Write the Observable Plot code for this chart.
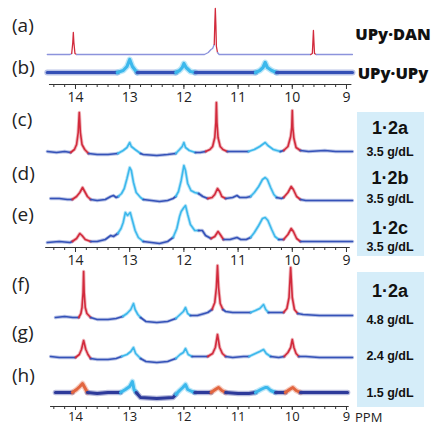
<!DOCTYPE html>
<html><head><meta charset="utf-8">
<script src="https://cdn.jsdelivr.net/npm/d3@7"></script>
<script src="https://cdn.jsdelivr.net/npm/@observablehq/plot@0.6"></script>
<style>
body{margin:0;background:#fff;}
#fig{position:relative;width:432px;height:425px;overflow:hidden;background:#fff;}
#fig svg{position:absolute;left:0;background:transparent;overflow:visible;}
.lbl{position:absolute;font-family:"Open Sans",sans-serif;color:#222;transform:translateY(-50%);white-space:nowrap;}
.box{position:absolute;background:#d5edf9;}
.bt{position:absolute;font-family:"Liberation Sans",Arial,sans-serif;font-weight:bold;color:#111;transform:translate(-50%,-50%);white-space:nowrap;}
</style></head>
<body><div id="fig"></div>
<script>
// ---- data: [ppm, intensity] ----
const specA = [[14.52,0],[14.1,0],[14.07,1],[14.05,12],[14.04,22],[14.03,12],[14.01,1],[13.98,0],[11.62,0],[11.55,2],[11.5,5],[11.47,6],[11.44,10],[11.43,30],[11.42,46],[11.41,30],[11.40,8],[11.38,2],[11.35,0],[9.66,0],[9.63,1],[9.62,12],[9.61,24],[9.60,12],[9.59,1],[9.56,0],[8.89,0]];
const colorsA = [[14.08,13.99,"red"],[11.44,11.37,"red"],[9.65,9.57,"red"]];

const specB = [[14.52,0],[13.23,0],[13.12,2],[13.05,6],[13.0,13],[12.95,6],[12.88,1],[12.86,0],[12.15,0],[12.08,2],[12.03,5],[12.0,9],[11.96,5],[11.88,1],[11.79,0],[10.68,0],[10.6,2],[10.54,5],[10.5,10],[10.46,5],[10.38,2],[10.29,0],[8.89,0]];
const colorsB = [[13.23,12.86,"cyan"],[12.15,11.79,"cyan"],[10.68,10.29,"cyan"]];

const specC = [[14.52,1],[14.35,0],[14.2,1],[14.09,0],[14.02,3],[13.98,8],[13.95,20],[13.93,40],[13.91,20],[13.88,8],[13.83,3],[13.76,-1],[13.6,-2],[13.4,-2],[13.22,-1],[13.12,2],[13.05,5],[13.0,10],[12.97,6],[12.9,3],[12.8,-1],[12.75,-2],[12.5,-3],[12.3,-2],[12.15,-1],[12.08,3],[12.03,6],[12.0,10],[11.97,5],[11.9,2],[11.79,0],[11.7,0],[11.6,1],[11.52,3],[11.47,6],[11.43,15],[11.41,30],[11.40,50],[11.39,30],[11.37,15],[11.33,6],[11.28,3],[11.2,1],[11.0,1],[10.81,1],[10.7,3],[10.6,6],[10.55,8],[10.5,10],[10.45,7],[10.35,3],[10.22,1],[10.16,2],[10.08,6],[10.03,16],[10.01,25],[10.0,42],[9.99,25],[9.97,14],[9.93,5],[9.85,2],[9.7,1],[9.4,2],[9.2,1],[8.89,1]];
const colorsC = [[14.09,13.76,"red"],[13.22,12.8,"cyan"],[12.15,11.79,"cyan"],[11.6,11.2,"red"],[10.81,10.22,"cyan"],[10.16,9.85,"red"]];

const specD = [[14.46,2],[14.3,2],[14.15,1],[14.06,1],[13.98,4],[13.92,8],[13.87,13],[13.83,9],[13.78,4],[13.72,1],[13.6,0],[13.45,1],[13.35,4],[13.3,5],[13.25,3],[13.21,4],[13.15,7],[13.1,12],[13.05,22],[13.0,33],[12.97,30],[12.93,18],[12.88,8],[12.8,3],[12.75,1],[12.6,0],[12.45,-1],[12.3,0],[12.2,2],[12.15,4],[12.1,9],[12.05,20],[12.0,35],[11.97,30],[11.93,17],[11.87,10],[11.8,8],[11.73,7],[11.65,4],[11.56,2],[11.48,3],[11.43,6],[11.38,12],[11.34,9],[11.3,4],[11.23,2],[11.1,3],[11.02,5],[10.97,3],[10.85,3],[10.77,4],[10.7,8],[10.62,14],[10.55,21],[10.5,23],[10.46,21],[10.4,13],[10.34,6],[10.29,3],[10.2,2],[10.16,3],[10.08,8],[10.02,14],[9.98,11],[9.92,4],[9.85,1],[9.75,0],[9.5,0],[9.2,0],[8.89,0]];
const colorsD = [[14.06,13.72,"red"],[13.21,12.75,"cyan"],[12.15,11.73,"cyan"],[11.56,11.23,"red"],[10.77,10.29,"cyan"],[10.16,9.85,"red"]];

const specE = [[14.52,0],[14.3,1],[14.1,0],[14.06,1],[13.98,4],[13.92,9],[13.88,7],[13.82,3],[13.72,1],[13.6,1],[13.45,3],[13.35,7],[13.3,6],[13.22,9],[13.16,14],[13.12,20],[13.08,30],[13.04,27],[12.99,30],[12.95,22],[12.9,12],[12.84,5],[12.75,1],[12.6,0],[12.45,-1],[12.3,1],[12.2,5],[12.13,14],[12.08,26],[12.05,31],[12.0,35],[11.97,37],[11.93,28],[11.88,18],[11.8,12],[11.73,12],[11.66,12],[11.6,7],[11.5,4],[11.43,6],[11.37,11],[11.33,8],[11.27,3],[11.15,3],[11.02,5],[10.95,3],[10.85,3],[10.77,5],[10.7,10],[10.62,17],[10.55,24],[10.5,25],[10.45,22],[10.38,13],[10.32,6],[10.25,3],[10.16,3],[10.08,8],[10.02,14],[9.98,11],[9.92,4],[9.85,1],[9.7,1],[9.3,1],[8.89,1]];
const colorsE = [[14.06,13.72,"red"],[13.22,12.75,"cyan"],[12.2,11.73,"cyan"],[11.5,11.27,"red"],[10.77,10.25,"cyan"],[10.16,9.85,"red"]];

const specF = [[14.37,0],[14.2,1],[14.05,0],[13.94,0],[13.9,4],[13.88,10],[13.86,25],[13.85,46],[13.84,25],[13.82,10],[13.79,4],[13.72,0],[13.6,-2],[13.4,-2],[13.25,-1],[13.13,1],[13.05,4],[12.98,8],[12.93,14],[12.9,8],[12.85,3],[12.8,0],[12.7,-4],[12.5,-5],[12.3,-4],[12.15,-1],[12.07,3],[12.01,6],[11.97,10],[11.93,4],[11.88,2],[11.75,2],[11.62,4],[11.56,5],[11.48,8],[11.43,15],[11.4,30],[11.38,52],[11.36,30],[11.33,14],[11.28,8],[11.23,6],[11.1,5],[10.9,5],[10.77,5],[10.68,7],[10.6,9],[10.53,13],[10.49,8],[10.44,5],[10.3,5],[10.16,5],[10.1,9],[10.06,20],[10.03,50],[10.0,20],[9.96,8],[9.9,4],[9.8,3],[9.5,2],[9.2,2],[8.89,2]];
const colorsF = [[13.94,13.72,"red"],[13.13,12.8,"cyan"],[12.15,11.88,"cyan"],[11.48,11.28,"red"],[10.77,10.44,"cyan"],[10.16,9.9,"red"]];

const specG = [[14.46,1],[14.3,0],[14.1,0],[14.0,0],[13.93,3],[13.89,8],[13.85,17],[13.81,8],[13.77,3],[13.72,-1],[13.6,-2],[13.4,-2],[13.25,-1],[13.15,1],[13.05,3],[12.98,6],[12.93,10],[12.89,4],[12.8,-1],[12.7,-4],[12.5,-5],[12.3,-4],[12.15,-1],[12.07,3],[12.01,5],[11.97,9],[11.92,3],[11.85,1],[11.7,1],[11.56,1],[11.47,4],[11.42,10],[11.38,23],[11.34,10],[11.29,4],[11.23,1],[11.1,0],[10.9,1],[10.8,1],[10.68,4],[10.6,6],[10.53,8],[10.48,4],[10.4,1],[10.25,0],[10.15,1],[10.08,5],[10.03,10],[10.0,18],[9.97,10],[9.93,4],[9.88,1],[9.75,1],[9.5,0],[9.2,0],[8.89,0]];
const colorsG = [[14.0,13.72,"red"],[13.15,12.8,"cyan"],[12.15,11.85,"cyan"],[11.56,11.23,"red"],[10.8,10.4,"cyan"],[10.15,9.88,"red"]];

const specH = [[14.37,0],[14.2,0],[14.06,0],[13.98,3],[13.92,6],[13.87,9],[13.83,5],[13.78,0],[13.6,-1],[13.4,0],[13.25,0],[13.17,0],[13.08,3],[13.0,6],[12.95,11],[12.92,3],[12.88,0],[12.8,-5],[12.5,-6],[12.2,-5],[12.15,-2],[12.08,2],[12.02,5],[11.97,8],[11.93,3],[11.85,1],[11.8,0],[11.6,0],[11.5,0],[11.42,3],[11.36,5],[11.3,2],[11.23,0],[11.0,-1],[10.8,-1],[10.68,0],[10.58,3],[10.5,5],[10.46,5],[10.4,2],[10.31,0],[10.2,0],[10.13,0],[10.05,3],[9.99,5],[9.93,2],[9.85,0],[9.6,0],[9.3,0],[8.98,0]];
const colorsH = [[14.06,13.78,"orange"],[13.17,12.88,"cyan"],[12.15,11.8,"cyan"],[11.5,11.23,"orange"],[10.68,10.31,"cyan"],[10.13,9.85,"orange"]];

const majorTicks = [14,13,12,11,10,9];
const minorTicks = d3.range(72,45,-1).map(v => v/5); // 14.4 ... 9.0
const rowLabels = ["(a)","(b)","(c)","(d)","(e)","(f)","(g)","(h)"];
const sampleNamesTop = ["UPy·DAN","UPy·UPy"];
const boxNames2 = ["1·2a","1·2b","1·2c"];
const conc2 = ["3.5 g/dL","3.5 g/dL","3.5 g/dL"];
const boxName3 = "1·2a";
const conc3 = ["4.8 g/dL","2.4 g/dL","1.5 g/dL"];

// ---- styling / layout ----
const palette = {red:"#d22a3c", cyan:"#3cb8ec", orange:"#e2653f"};
const X = {type:"linear", domain:[14.5, 8.9], range:[47.9, 351.4]};

function runs(pts, regions, base) {
  const colorAt = p => { for (const [hi, lo, c] of regions) if (p <= hi && p >= lo) return palette[c]; return base; };
  const out = []; let cur = null;
  for (let i = 0; i < pts.length - 1; i++) {
    const c = colorAt((pts[i][0] + pts[i+1][0]) / 2);
    if (!cur || cur.color !== c) { cur = {color:c, pts:[pts[i]]}; out.push(cur); }
    cur.pts.push(pts[i+1]);
  }
  return out;
}

function panel(top, height, mb, rows, axisExtent, tk) {
  const inner = height - mb;
  const marks = [];
  for (const r of rows) {
    const rr = runs(r.data, r.regions, r.base);
    if (r.halo) for (const run of rr) {
      marks.push(Plot.line(run.pts, {x: d => d[0], y: d => d[1] + r.offset, stroke: run.color,
        strokeWidth: r.halo, strokeOpacity: 0.35, curve: "linear", strokeLinejoin: "round", strokeLinecap: "round"}));
    }
    for (const run of rr) {
      marks.push(Plot.line(run.pts, {x: d => d[0], y: d => d[1] + r.offset, stroke: run.color,
        strokeWidth: r.sw, strokeOpacity: r.op ?? 1, curve: "linear", strokeLinejoin: "round", strokeLinecap: "round"}));
    }
  }
  marks.push(Plot.ruleY([0], {x1: axisExtent[0], x2: axisExtent[1], stroke: "#333", strokeWidth: 1}));
  marks.push(Plot.axisX(minorTicks, {tickSize: 3, tickFormat: () => "", stroke: "#333"}));
  marks.push(Plot.axisX(majorTicks, {tickSize: tk.size, tickPadding: tk.pad, tickFormat: d => String(d), stroke: "#333", fill: "#222"}));
  const svg = Plot.plot({
    width: 432, height, marginTop: 0, marginLeft: 0, marginRight: 0, marginBottom: mb,
    x: X,
    y: {domain: [0, inner], range: [inner, 0], axis: null},
    style: {fontFamily: "'Open Sans', sans-serif", fontSize: tk.font + "px", background: "transparent", overflow: "visible"},
    marks
  });
  svg.style.top = top + "px";
  return svg;
}

const fig = document.getElementById("fig");
fig.appendChild(panel(0, 105, 21, [
  {data: specA, regions: colorsA, base: "#8c93dc", offset: 30, sw: 1.3},
  {data: specB, regions: colorsB, base: "#3450b6", offset: 12, sw: 3.2, halo: 6}
], [14.48, 8.9], {size: 5, pad: 3, font: 14}));
fig.appendChild(panel(100, 168, 21, [
  {data: specC, regions: colorsC, base: "#3552b8", offset: 95, sw: 1.6, halo: 3.4},
  {data: specD, regions: colorsD, base: "#3552b8", offset: 47, sw: 1.6, halo: 3.4},
  {data: specE, regions: colorsE, base: "#3552b8", offset: 5, sw: 1.6, halo: 3.4}
], [14.55, 8.93], {size: 5, pad: 3, font: 14}));
fig.appendChild(panel(262, 163, 19, [
  {data: specF, regions: colorsF, base: "#3552b8", offset: 89, sw: 1.6, halo: 3.4},
  {data: specG, regions: colorsG, base: "#3552b8", offset: 49, sw: 1.6, halo: 3.4},
  {data: specH, regions: colorsH, base: "#2d3a9a", offset: 14, sw: 3, halo: 5.5}
], [14.46, 8.95], {size: 4, pad: 1, font: 13}));

// ---- text overlays ----
function add(cls, text, css) {
  const d = document.createElement("div"); d.className = cls; d.textContent = text;
  Object.assign(d.style, css); fig.appendChild(d); return d;
}
const rowY = [25, 67, 119, 173, 214, 284, 332, 375];
rowLabels.forEach((t, i) => add("lbl", t, {left: "12px", top: rowY[i] + "px", fontSize: "19px"}));
add("lbl", "PPM", {left: "355px", top: "417px", fontSize: "13px"});
sampleNamesTop.forEach((t, i) => add("bt", t, {left: "393px", top: [33, 72][i] + "px", fontSize: "16.5px", fontFamily: "'Open Sans',sans-serif", fontWeight: "800"}));
add("box", "", {left: "357px", top: "112px", width: "67px", height: "144px"});
add("box", "", {left: "357px", top: "272px", width: "67px", height: "135px"});
const nameY2 = [128, 178, 228], concY2 = [152, 199, 247];
boxNames2.forEach((t, i) => add("bt", t, {left: "390px", top: nameY2[i] + "px", fontSize: "18px"}));
conc2.forEach((t, i) => add("bt", t, {left: "390px", top: concY2[i] + "px", fontSize: "12.5px"}));
add("bt", boxName3, {left: "390px", top: "291px", fontSize: "18px"});
conc3.forEach((t, i) => add("bt", t, {left: "390px", top: [320, 356, 393][i] + "px", fontSize: "12.5px"}));
</script></body></html>
